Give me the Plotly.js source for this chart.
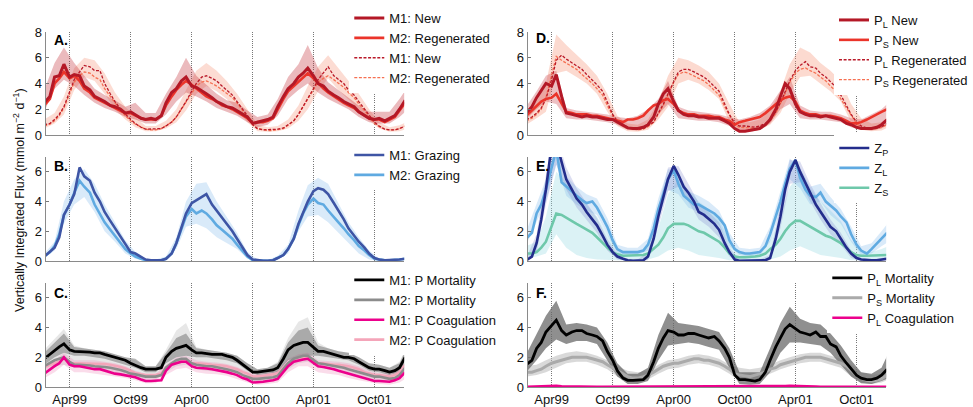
<!DOCTYPE html>
<html><head><meta charset="utf-8">
<script src="https://cdn.plot.ly/plotly-3.0.1.min.js"></script>
<style>html,body{margin:0;padding:0;background:#fff}#chart{width:973px;height:407px}</style>
</head><body><div id="chart"></div>
<script>
// ---- x values: semimonthly dates for lines, monthly dates for uncertainty bands ----
const dates = [];
for (let y = 1999; y <= 2001; y++) for (let m = 1; m <= 12; m++) {
  const mm = String(m).padStart(2, '0');
  dates.push(y + '-' + mm + '-01', y + '-' + mm + '-15');
}
dates.shift(); dates.push('2002-01-01');
const bandDates = [];
for (let y = 1999; y <= 2001; y++) for (let m = 1; m <= 12; m++) bandDates.push(y + '-' + String(m).padStart(2, '0') + '-15');
bandDates.push('2002-01-05');

const tickDates = ['1999-04-01','1999-10-01','2000-04-01','2000-10-01','2001-04-01','2001-10-01'];
const tickLabels = ['Apr99','Oct99','Apr00','Oct00','Apr01','Oct01'];

// ---- Panel A ----
const A_M1_new = [2.5,3.0,4.5,4.6,5.5,4.5,4.7,4.6,3.8,3.5,3.0,2.8, 2.6,2.3,2.2,2.0,1.7,1.8,1.6,1.3,1.2,1.3,1.2,1.5, 2.5,3.3,3.6,4.2,4.5,3.8,3.7,3.4,3.2,2.9,2.6,2.4, 2.2,2.1,1.9,1.6,1.4,0.9,1.0,1.1,1.2,1.4,2.2,3.0, 3.6,4.0,4.5,4.8,5.2,4.6,4.0,3.8,3.4,3.1,2.9,2.6, 2.4,2.2,1.8,1.5,1.3,1.2,1.3,1.1,1.3,1.5,2.0,2.7];
const A_M2_regen = [2.3,2.8,4.0,4.4,4.9,4.4,4.6,4.2,3.6,3.3,2.9,2.7, 2.5,2.3,2.1,1.9,1.7,1.7,1.5,1.3,1.2,1.2,1.2,1.5, 2.3,3.0,3.5,3.9,4.2,3.9,3.6,3.3,3.0,2.8,2.6,2.3, 2.2,2.0,1.8,1.5,1.3,0.9,1.0,1.0,1.1,1.3,2.0,2.8, 3.4,3.8,4.2,4.5,4.8,4.4,4.0,3.6,3.3,3.0,2.8,2.5, 2.3,2.1,1.8,1.5,1.3,1.2,1.2,1.0,1.2,1.4,1.9,2.5];
const A_M1_dash = [0.8,0.9,1.2,1.6,2.2,3.3,4.3,4.9,5.4,5.3,5.0,5.0, 4.0,3.2,2.6,2.0,1.6,1.2,0.9,0.6,0.45,0.45,0.45,0.5, 0.7,1.0,1.4,2.0,2.6,3.4,4.0,4.5,4.6,4.4,4.2,3.8, 3.5,3.1,2.6,2.0,1.5,0.8,0.5,0.4,0.4,0.4,0.45,0.55, 0.8,1.1,1.6,2.2,2.8,3.6,4.3,4.8,5.3,4.6,4.3,4.0, 3.5,3.1,2.6,2.0,1.5,1.0,0.7,0.45,0.4,0.4,0.5,0.7];
const A_M2_dash = [0.7,0.85,1.1,1.5,2.1,3.2,4.1,4.6,4.9,4.8,4.5,4.3, 3.6,3.0,2.5,1.9,1.5,1.1,0.85,0.6,0.45,0.4,0.4,0.5, 0.7,1.0,1.4,2.0,2.6,3.3,3.8,4.1,4.2,4.0,3.8,3.5, 3.2,2.9,2.5,1.9,1.4,0.8,0.5,0.4,0.35,0.35,0.4,0.5, 0.75,1.1,1.6,2.2,2.8,3.5,4.1,4.4,4.6,4.3,4.0,3.7, 3.3,2.9,2.4,1.9,1.4,0.9,0.65,0.45,0.4,0.4,0.5,0.7];
const A_band_new_hi = [3.5,5.6,6.8,5.6,4.6,3.6,3.1,2.7,2.2,2.5,1.7,1.7, 3.2,4.5,6.0,4.6,3.9,3.2,2.7,2.5,1.9,1.4,1.6,2.8, 4.5,5.5,7.0,5.2,4.1,3.5,2.9,2.3,1.8,1.8,1.8,2.8, 3.6];
const A_band_new_lo = [1.8,3.6,4.3,3.8,3.1,2.5,2.1,1.8,1.4,1.2,0.9,0.9, 1.6,2.6,3.3,3.0,2.6,2.1,1.8,1.5,1.0,0.6,0.8,1.5, 2.8,3.5,4.0,3.3,2.8,2.4,2.0,1.4,1.0,0.9,0.9,1.4, 1.9];
const A_band_dash_hi = [1.2,1.7,3.0,5.2,6.0,5.8,4.8,3.3,2.2,1.4,0.7,0.7, 1.1,2.0,3.5,5.0,5.6,5.0,4.2,3.2,2.0,0.8,0.6,0.7, 1.2,2.3,3.8,5.3,6.2,5.2,4.2,3.2,2.0,1.0,0.6,0.75, 1.0];
const A_band_dash_lo = [0.5,0.9,1.6,3.5,4.5,4.2,3.2,2.0,1.2,0.6,0.3,0.3, 0.5,1.0,1.9,3.2,3.8,3.4,2.8,2.0,1.0,0.3,0.25,0.3, 0.5,1.1,2.0,3.4,4.4,3.5,2.8,2.0,1.1,0.5,0.25,0.3, 0.45];

// ---- Panel B ----
const B_M1 = [0.3,0.6,0.9,1.6,3.1,3.8,4.5,6.3,5.7,5.4,4.6,4.0, 3.3,2.7,2.2,1.6,1.1,0.6,0.5,0.3,0.1,0.05,0.05,0.05, 0.15,0.5,1.2,2.2,3.2,3.9,4.1,4.3,4.5,3.8,3.4,2.9, 2.5,2.0,1.5,0.9,0.4,0.1,0.05,0.02,0.02,0.05,0.2,0.4, 0.8,1.5,2.5,3.3,4.0,4.7,4.9,4.8,4.5,3.9,3.4,2.8, 2.2,1.7,1.3,0.9,0.5,0.2,0.1,0.05,0.05,0.05,0.1,0.15];
const B_M2 = [0.3,0.6,1.0,1.8,3.1,3.8,4.6,5.4,5.0,4.6,3.8,3.2, 2.6,2.1,1.7,1.2,0.8,0.5,0.3,0.15,0.05,0.03,0.03,0.05, 0.15,0.5,1.2,2.1,3.0,3.5,3.2,3.4,3.2,2.8,2.4,2.1, 1.8,1.5,1.1,0.7,0.3,0.05,0.03,0.02,0.02,0.05,0.2,0.4, 0.8,1.5,2.4,3.2,3.8,4.2,3.9,3.8,3.4,3.0,2.6,2.2, 1.8,1.4,1.0,0.7,0.4,0.15,0.1,0.05,0.05,0.05,0.1,0.15];
const B_band_hi = [0.5,1.3,4.0,5.5,6.2,5.2,3.8,2.6,1.4,0.6,0.15,0.1, 0.3,1.6,4.0,5.2,5.3,4.0,3.0,1.9,0.6,0.1,0.05,0.35, 1.1,3.4,5.1,5.6,5.2,3.9,2.6,1.6,0.7,0.15,0.1,0.15, 0.25];
const B_band_lo = [0.2,0.7,2.5,3.8,4.3,3.3,2.0,1.3,0.5,0.15,0,0, 0.05,0.8,2.3,2.5,2.2,1.6,1.2,0.8,0.15,0,0,0.1, 0.5,2.0,3.0,3.1,2.6,1.9,1.2,0.5,0.1,0,0,0.02, 0.05];

// ---- Panel C ----
const C_M1_mort = [1.9,2.2,2.5,2.7,2.9,2.5,2.4,2.4,2.4,2.35,2.3,2.3, 2.2,2.1,2.0,1.9,1.8,1.6,1.45,1.3,1.2,1.2,1.2,1.3, 2.0,2.4,2.6,2.7,2.8,2.5,2.3,2.3,2.25,2.2,2.2,2.2, 2.1,2.0,1.8,1.5,1.3,1.0,1.0,1.05,1.1,1.15,1.3,1.9, 2.5,2.8,2.9,3.0,3.0,2.7,2.4,2.4,2.3,2.2,2.1,2.0, 2.0,1.9,1.7,1.5,1.3,1.2,1.2,1.1,1.0,1.1,1.3,2.0];
const C_M2_mort = [1.4,1.6,1.8,1.9,2.0,1.7,1.5,1.5,1.5,1.45,1.4,1.4, 1.35,1.3,1.25,1.15,1.05,0.9,0.85,0.75,0.7,0.7,0.7,0.8, 1.3,1.6,1.8,1.9,1.9,1.6,1.5,1.45,1.4,1.4,1.35,1.3, 1.2,1.1,1.0,0.8,0.7,0.55,0.55,0.6,0.6,0.65,0.75,1.2, 1.6,1.9,2.0,2.1,2.1,1.8,1.6,1.55,1.5,1.4,1.4,1.3, 1.2,1.1,1.0,0.9,0.8,0.7,0.7,0.6,0.55,0.6,0.8,1.3];
const C_M1_coag = [0.9,1.2,1.4,1.6,2.0,1.5,1.4,1.4,1.35,1.3,1.2,1.2, 1.1,1.0,0.9,0.85,0.8,0.75,0.65,0.5,0.4,0.4,0.4,0.45, 1.1,1.5,1.6,1.7,1.7,1.4,1.3,1.3,1.25,1.2,1.15,1.1, 1.0,0.9,0.8,0.6,0.5,0.3,0.3,0.35,0.4,0.45,0.55,1.0, 1.4,1.7,1.8,1.85,1.9,1.6,1.4,1.35,1.3,1.2,1.1,1.0, 0.9,0.8,0.7,0.6,0.5,0.4,0.4,0.35,0.35,0.45,0.6,1.0];
const C_M2_coag = [1.3,1.5,1.6,1.7,1.9,1.6,1.6,1.6,1.6,1.6,1.6,1.6, 1.55,1.5,1.45,1.35,1.25,1.1,0.95,0.85,0.8,0.8,0.8,0.9, 1.3,1.6,1.7,1.8,1.8,1.6,1.6,1.6,1.55,1.5,1.5,1.45, 1.4,1.3,1.2,1.0,0.9,0.7,0.7,0.75,0.8,0.85,0.95,1.3, 1.6,1.8,1.9,2.0,2.0,1.8,1.6,1.6,1.55,1.5,1.5,1.45, 1.4,1.3,1.2,1.0,0.9,0.8,0.8,0.75,0.7,0.8,1.0,1.5];
const C_band_m1_hi = [2.3,3.0,3.6,2.7,2.6,2.5,2.4,2.2,2.0,1.9,1.4,1.4, 2.3,3.3,3.6,2.6,2.5,2.4,2.3,2.1,1.6,1.2,1.3,1.6, 3.0,3.8,4.0,2.8,2.6,2.4,2.3,2.0,1.6,1.5,1.3,1.6, 2.6];
const C_band_m1_lo = [1.5,2.0,2.3,2.1,2.1,2.0,1.9,1.7,1.5,1.3,1.0,1.0, 1.6,2.0,2.1,2.0,2.0,1.9,1.8,1.6,1.1,0.8,0.9,1.0, 1.8,2.0,2.1,2.1,2.0,1.9,1.8,1.5,1.1,1.0,0.8,1.0, 1.5];
const C_band_m2_hi = [2.5,3.2,3.9,2.8,2.6,2.5,2.4,2.2,2.0,1.8,1.4,1.4, 2.5,3.8,4.3,2.7,2.5,2.4,2.3,2.1,1.6,1.2,1.3,1.7, 3.3,4.4,4.7,3.0,2.6,2.4,2.3,2.0,1.6,1.5,1.3,1.7, 2.7];
const C_band_m2_lo = [1.1,1.4,1.5,1.3,1.3,1.2,1.1,1.0,0.85,0.6,0.5,0.5, 1.0,1.4,1.5,1.2,1.1,1.05,0.95,0.8,0.5,0.35,0.4,0.55, 1.2,1.6,1.7,1.3,1.2,1.1,0.95,0.75,0.55,0.45,0.35,0.55, 1.0];
const C_band_coag_hi = [1.4,1.8,2.3,1.8,1.8,1.8,1.7,1.6,1.4,1.1,0.9,0.9, 1.5,2.0,2.1,1.8,1.7,1.65,1.55,1.35,1.05,0.85,0.95,1.1, 1.9,2.2,2.3,1.8,1.75,1.7,1.6,1.4,1.1,0.95,0.9,1.2, 1.7];
const C_band_coag_lo = [0.6,1.0,1.5,1.0,1.0,0.9,0.8,0.7,0.6,0.45,0.25,0.25, 0.8,1.2,1.3,1.0,0.9,0.85,0.75,0.55,0.3,0.15,0.2,0.3, 1.0,1.4,1.4,1.0,0.9,0.8,0.6,0.45,0.3,0.2,0.15,0.3, 0.6];

// ---- Panel D ----
const D_PL_new = [1.7,2.2,2.9,3.5,4.0,3.8,4.7,3.0,1.7,1.6,1.5,1.4, 1.5,1.4,1.4,1.3,1.2,1.2,1.0,0.7,0.55,0.5,0.5,0.6, 0.8,1.4,2.4,3.2,3.6,2.6,1.9,1.6,1.5,1.5,1.4,1.4, 1.3,1.3,1.3,1.1,0.9,0.5,0.3,0.3,0.35,0.4,0.5,0.8, 1.2,2.0,3.0,4.0,3.6,2.4,1.8,1.6,1.5,1.5,1.4,1.5, 1.4,1.3,1.2,0.9,0.8,0.6,0.5,0.5,0.5,0.6,0.8,1.2];
const D_PS_new = [1.5,1.9,2.3,2.6,2.8,2.9,3.2,2.4,1.8,1.7,1.6,1.6, 1.6,1.5,1.5,1.4,1.3,1.2,1.1,1.0,1.2,1.2,1.3,1.5, 1.9,2.3,2.4,2.7,2.8,2.4,1.9,1.7,1.6,1.6,1.5,1.5, 1.5,1.4,1.4,1.2,1.1,0.8,1.0,1.1,1.2,1.3,1.4,1.7, 2.0,2.4,2.7,2.9,3.0,2.6,1.9,1.7,1.6,1.6,1.5,1.5, 1.5,1.4,1.3,1.1,0.9,0.9,1.0,1.2,1.4,1.6,1.8,2.0];
const D_PL_regen = [1.2,1.4,1.7,2.1,2.8,4.3,5.8,6.2,5.9,5.6,5.4,5.1, 4.7,4.3,3.9,3.4,2.5,1.6,1.1,0.8,0.6,0.5,0.45,0.5, 0.7,1.0,1.7,2.4,3.2,4.2,4.9,5.1,5.1,4.9,4.7,4.5, 4.2,3.8,3.4,2.4,1.6,0.9,0.7,0.7,0.65,0.6,0.7,0.9, 1.2,1.8,2.5,3.3,4.2,5.0,5.4,5.7,5.3,5.2,4.8,4.5, 4.1,3.7,3.1,2.3,1.6,1.0,0.7,0.55,0.5,0.55,0.65,0.9];
const D_PS_regen = [1.1,1.3,1.6,2.0,2.9,4.6,6.1,5.8,5.6,5.3,5.1,4.7, 4.4,4.0,3.6,3.1,2.3,1.5,1.0,0.7,0.55,0.45,0.4,0.45, 0.65,1.0,1.6,2.3,3.1,4.1,4.7,4.9,4.8,4.6,4.4,4.2, 3.9,3.5,3.1,2.2,1.5,0.8,0.6,0.6,0.55,0.5,0.6,0.8, 1.1,1.7,2.4,3.2,4.1,4.8,5.1,5.2,5.0,4.8,4.5,4.2, 3.8,3.4,2.8,2.1,1.5,0.9,0.6,0.5,0.45,0.5,0.6,0.8];
const D_band_new_hi = [2.2,3.4,4.6,5.0,2.1,1.9,1.8,1.7,1.6,1.4,1.3,1.5, 2.0,2.8,4.2,2.2,1.9,1.8,1.7,1.6,1.4,1.2,1.4,1.7, 2.3,3.5,4.5,2.3,1.9,1.8,1.8,1.6,1.3,1.2,1.6,2.0, 2.5];
const D_band_new_lo = [1.2,2.0,2.6,2.4,1.3,1.2,1.2,1.1,1.0,0.8,0.4,0.35, 0.6,1.6,2.4,1.3,1.2,1.1,1.1,1.0,0.7,0.2,0.25,0.4, 0.9,2.0,2.4,1.3,1.2,1.2,1.1,1.0,0.6,0.4,0.35,0.5, 0.8];
const D_band_regen_hi = [1.8,2.6,4.0,7.8,7.0,6.2,5.5,4.6,3.2,1.5,0.9,0.8, 1.2,2.6,4.6,6.0,5.8,5.4,4.9,4.0,2.4,1.0,1.0,1.2, 1.9,3.4,5.5,6.8,6.4,5.6,5.0,4.2,2.4,1.3,0.9,1.0, 1.4];
const D_band_regen_lo = [0.8,1.3,1.8,4.8,5.0,4.5,4.0,3.2,1.8,0.7,0.3,0.25, 0.4,1.2,2.2,4.0,4.3,4.0,3.5,2.8,1.0,0.4,0.3,0.4, 0.8,1.7,3.2,4.5,4.6,4.0,3.4,2.6,1.0,0.4,0.3,0.35, 0.6];

// ---- Panel E ----
const E_Zp = [0.05,0.3,1.2,2.8,4.8,7.8,8.0,6.6,5.5,4.8,4.2,3.8, 3.3,2.8,2.4,1.7,1.1,0.6,0.3,0.15,0.05,0.02,0.02,0.05, 0.3,1.5,3.0,4.4,5.5,6.4,5.8,5.0,4.6,4.0,3.3,3.1, 2.8,2.5,2.1,1.2,0.6,0.1,0.02,0.02,0.02,0.02,0.02,0.05, 0.2,1.5,3.0,4.8,6.0,6.8,6.0,5.2,4.6,3.8,3.3,2.8, 2.3,2.0,1.5,0.9,0.5,0.2,0.1,0.05,0.05,0.05,0.1,0.15];
const E_Zl = [1.5,1.9,3.2,3.8,4.8,6.2,7.5,5.3,5.0,4.7,4.4,4.1, 3.9,4.0,3.6,2.9,2.3,1.4,0.8,0.6,0.6,0.6,0.6,0.7, 1.1,2.2,3.5,4.5,5.5,6.1,5.2,4.4,4.1,3.8,3.8,3.6, 3.4,3.2,2.9,2.4,1.4,0.8,0.6,0.5,0.5,0.55,0.6,1.0, 1.8,3.0,4.0,5.2,6.2,6.8,5.6,4.8,4.4,4.3,4.6,4.0, 3.7,3.4,3.0,2.6,1.8,1.1,0.7,0.5,0.8,1.2,1.5,1.9];
const E_Zs = [0.5,0.5,0.6,0.9,1.3,2.4,3.2,3.1,2.9,2.7,2.5,2.3, 2.1,1.9,1.6,1.2,0.9,0.6,0.45,0.35,0.35,0.35,0.35,0.4, 0.5,0.8,1.1,1.6,2.2,2.5,2.5,2.5,2.4,2.2,2.0,1.9, 1.7,1.5,1.3,0.9,0.5,0.3,0.25,0.25,0.25,0.3,0.35,0.5, 0.8,1.1,1.5,2.0,2.4,2.7,2.7,2.5,2.3,2.1,1.9,1.7, 1.6,1.4,1.2,0.9,0.6,0.4,0.35,0.35,0.35,0.35,0.4,0.4];
const E_band_zp_hi = [0.2,1.8,5.8,8.5,6.3,4.9,3.9,2.9,1.5,0.5,0.1,0.1, 0.6,3.7,6.3,6.4,5.2,3.9,3.3,2.6,0.9,0.1,0.1,0.1, 0.4,3.8,6.8,6.7,5.2,3.9,2.8,1.9,0.7,0.2,0.1,0.2, 0.3];
const E_band_zp_lo = [0,0.6,3.8,6.5,4.8,3.6,2.8,1.9,0.7,0.1,0,0, 0.05,2.3,4.7,5.0,4.0,2.8,2.3,1.6,0.3,0,0,0, 0.05,2.2,5.2,5.3,4.0,2.8,1.8,1.1,0.2,0,0,0, 0];
const E_band_zl_hi = [2.0,3.9,5.5,8.0,5.7,5.0,4.5,4.2,2.9,1.1,0.9,0.9, 1.5,4.2,6.2,5.9,4.7,4.4,4.0,3.4,1.9,0.9,0.8,0.9, 2.3,4.7,6.9,6.3,5.0,5.2,4.3,3.5,2.3,1.0,1.2,2.0, 2.6];
const E_band_zl_lo = [1.1,2.6,4.0,6.5,4.4,3.8,3.4,3.1,1.8,0.5,0.4,0.4, 0.7,2.8,4.8,4.5,3.6,3.3,2.9,2.4,1.0,0.4,0.3,0.35, 1.3,3.3,5.5,4.9,3.8,4.0,3.1,2.5,1.3,0.4,0.5,1.0, 1.3];
const E_band_zs_hi = [1.0,1.3,3.0,6.0,5.3,4.5,3.8,3.0,1.8,0.8,0.6,0.6, 0.9,2.2,4.5,5.5,4.8,4.0,3.5,2.8,1.4,0.6,0.5,0.6, 1.4,3.0,5.0,5.8,4.9,4.0,3.4,2.7,1.4,0.7,0.6,0.8, 1.0];
const E_band_zs_lo = [0.2,0.3,0.5,1.8,0.9,0.4,0.2,0.1,0.05,0.05,0.05,0.05, 0.1,0.3,0.7,0.9,0.7,0.4,0.3,0.2,0.05,0.05,0.05,0.05, 0.1,0.3,0.7,1.0,0.7,0.4,0.3,0.2,0.05,0.05,0.05,0.05, 0.1];

// ---- Panel F ----
const F_PL_mort = [1.5,1.8,2.6,3.0,3.7,4.1,4.5,3.8,3.5,3.7,3.8,3.8, 3.6,3.5,3.4,3.1,2.4,1.8,1.1,0.6,0.45,0.45,0.45,0.5, 0.8,1.7,2.6,3.3,3.8,3.7,3.5,3.5,3.6,3.6,3.5,3.4, 3.3,3.4,3.1,2.6,2.0,0.8,0.5,0.5,0.45,0.4,0.5,1.0, 1.8,2.7,3.3,3.9,4.2,3.9,3.7,3.6,3.5,3.7,3.4,3.4, 2.9,2.7,2.1,1.6,1.2,0.8,0.6,0.5,0.5,0.6,0.8,1.2];
const F_PS_mort = [1.0,1.0,1.1,1.2,1.4,1.6,1.7,1.8,1.9,2.0,2.0,2.0, 2.0,1.9,1.8,1.7,1.5,1.3,1.1,0.9,0.7,0.6,0.6,0.7, 0.8,1.0,1.2,1.4,1.5,1.6,1.6,1.7,1.8,1.9,1.9,1.8, 1.8,1.7,1.6,1.4,1.2,0.9,0.8,0.75,0.7,0.8,0.9,1.0, 1.2,1.3,1.5,1.6,1.7,1.8,1.9,2.0,2.0,2.0,2.0,1.9, 1.8,1.7,1.6,1.4,1.1,0.8,0.6,0.45,0.4,0.45,0.55,0.8];
const F_PL_coag = [0.02,0.03,0.04,0.06,0.08,0.09,0.08,0.05,0.04,0.03,0.03,0.02, 0.02,0.02,0.02,0.02,0.02,0.02,0.02,0.02,0.02,0.02,0.02,0.02, 0.02,0.03,0.04,0.05,0.06,0.06,0.04,0.03,0.03,0.02,0.02,0.02, 0.02,0.02,0.02,0.02,0.02,0.02,0.02,0.02,0.02,0.02,0.02,0.03, 0.04,0.05,0.06,0.07,0.08,0.08,0.06,0.04,0.03,0.03,0.02,0.02, 0.02,0.02,0.02,0.02,0.02,0.02,0.02,0.02,0.02,0.02,0.02,0.02];
const F_band_pl_hi = [2.2,3.6,4.8,5.8,4.2,4.3,4.2,4.0,3.0,1.6,0.9,0.9, 1.3,3.5,5.0,4.3,4.2,4.1,3.9,3.7,2.6,1.0,1.0,1.0, 2.6,4.3,5.4,4.6,4.3,4.2,3.6,2.8,1.8,1.0,0.9,1.3, 2.3];
const F_band_pl_lo = [1.0,1.8,2.6,3.2,2.9,3.1,3.1,2.9,1.8,0.7,0.2,0.2, 0.4,1.8,2.8,2.9,3.0,2.9,2.7,2.5,1.3,0.2,0.15,0.2, 1.0,2.3,3.0,3.0,2.9,2.8,2.3,1.5,0.7,0.25,0.2,0.4, 0.6];
const F_band_ps_hi = [1.4,1.5,1.8,2.1,2.3,2.4,2.3,2.1,1.8,1.4,1.1,1.0, 1.1,1.5,1.8,1.9,2.1,2.2,2.1,1.9,1.5,1.3,1.2,1.3, 1.5,1.8,2.0,2.2,2.3,2.3,2.1,1.9,1.5,1.0,0.8,0.9, 1.3];
const F_band_ps_lo = [0.7,0.8,1.0,1.3,1.6,1.7,1.7,1.5,1.2,0.7,0.4,0.3, 0.5,0.9,1.2,1.3,1.5,1.6,1.5,1.3,0.9,0.4,0.4,0.6, 0.9,1.2,1.4,1.6,1.7,1.7,1.5,1.3,0.7,0.3,0.2,0.3, 0.5];

// ---- helpers ----
const FONT = 'Liberation Sans, Arial, Helvetica, sans-serif';
function band(n, hi, lo, color) {
  return {x: bandDates.concat(bandDates.slice().reverse()), y: hi.concat(lo.slice().reverse()),
    xaxis: 'x' + (n === 1 ? '' : n), yaxis: 'y' + (n === 1 ? '' : n), type: 'scatter', mode: 'lines',
    fill: 'toself', fillcolor: color, line: {width: 0}, showlegend: false, hoverinfo: 'skip'};
}
function line(n, y, name, color, width, dash, rank) {
  return {x: dates, y: y, name: name, xaxis: 'x' + (n === 1 ? '' : n), yaxis: 'y' + (n === 1 ? '' : n),
    type: 'scatter', mode: 'lines', line: {color: color, width: width, dash: dash || 'solid'},
    legend: n === 1 ? 'legend' : 'legend' + n, legendrank: rank, hoverinfo: 'skip'};
}
const DASH = '3px,1.6px';
const traces = [
  // A
  band(1, A_band_dash_hi, A_band_dash_lo, 'rgba(245,140,110,0.30)'),
  band(1, A_band_new_hi, A_band_new_lo, 'rgba(195,45,55,0.33)'),
  line(1, A_M2_dash, 'M2: Regenerated', 'rgb(246,112,82)', 1.3, DASH, 4),
  line(1, A_M1_dash, 'M1: New', 'rgb(185,25,40)', 1.3, DASH, 3),
  line(1, A_M2_regen, 'M2: Regenerated', 'rgb(235,52,42)', 2.6, 'solid', 2),
  line(1, A_M1_new, 'M1: New', 'rgb(180,24,38)', 3.0, 'solid', 1),
  // B
  band(2, B_band_hi, B_band_lo, 'rgba(130,185,235,0.30)'),
  line(2, B_M2, 'M2: Grazing', 'rgb(95,170,225)', 2.6, 'solid', 2),
  line(2, B_M1, 'M1: Grazing', 'rgb(62,85,165)', 2.6, 'solid', 1),
  // C
  band(3, C_band_m2_hi, C_band_m2_lo, 'rgba(175,175,175,0.30)'),
  band(3, C_band_coag_hi, C_band_coag_lo, 'rgba(240,140,185,0.30)'),
  band(3, C_band_m1_hi, C_band_m1_lo, 'rgba(95,95,95,0.45)'),
  line(3, C_M2_coag, 'M2: P Coagulation', 'rgb(244,165,185)', 2.6, 'solid', 4),
  line(3, C_M2_mort, 'M2: P Mortality', 'rgb(140,140,140)', 2.6, 'solid', 2),
  line(3, C_M1_coag, 'M1: P Coagulation', 'rgb(236,0,140)', 2.6, 'solid', 3),
  line(3, C_M1_mort, 'M1: P Mortality', 'rgb(0,0,0)', 2.8, 'solid', 1),
  // D
  band(4, D_band_regen_hi, D_band_regen_lo, 'rgba(245,140,110,0.32)'),
  band(4, D_band_new_hi, D_band_new_lo, 'rgba(195,45,55,0.30)'),
  line(4, D_PS_regen, 'P<sub>S</sub> Regenerated', 'rgb(246,112,82)', 1.3, DASH, 4),
  line(4, D_PL_regen, 'P<sub>L</sub> Regenerated', 'rgb(185,25,40)', 1.3, DASH, 3),
  line(4, D_PS_new, 'P<sub>S</sub> New', 'rgb(235,52,42)', 2.6, 'solid', 2),
  line(4, D_PL_new, 'P<sub>L</sub> New', 'rgb(180,24,38)', 3.0, 'solid', 1),
  // E
  band(5, E_band_zs_hi, E_band_zs_lo, 'rgba(160,220,228,0.38)'),
  band(5, E_band_zl_hi, E_band_zl_lo, 'rgba(130,185,235,0.30)'),
  band(5, E_band_zp_hi, E_band_zp_lo, 'rgba(130,135,205,0.28)'),
  line(5, E_Zs, 'Z<sub>S</sub>', 'rgb(110,200,170)', 2.6, 'solid', 3),
  line(5, E_Zl, 'Z<sub>L</sub>', 'rgb(95,170,225)', 2.6, 'solid', 2),
  line(5, E_Zp, 'Z<sub>P</sub>', 'rgb(35,45,140)', 2.6, 'solid', 1),
  // F
  band(6, F_band_ps_hi, F_band_ps_lo, 'rgba(185,185,185,0.55)'),
  band(6, F_band_pl_hi, F_band_pl_lo, 'rgba(105,105,105,0.75)'),
  line(6, F_PS_mort, 'P<sub>S</sub> Mortality', 'rgb(170,170,170)', 3.0, 'solid', 2),
  line(6, F_PL_coag, 'P<sub>L</sub> Coagulation', 'rgb(236,0,140)', 2.6, 'solid', 3),
  line(6, F_PL_mort, 'P<sub>L</sub> Mortality', 'rgb(0,0,0)', 2.8, 'solid', 1)
];

const W = 973, H = 407;
const xL = [46 / W, 405 / W], xR = [529 / W, 888 / W];
const yTop = [1 - 135 / H, 1 - 32 / H], yMid = [1 - 261 / H, 1 - 157 / H], yBot = [1 - 387 / H, 1 - 283 / H];
function xax(dom, labels) {
  return {domain: dom, type: 'date', range: ['1999-01-20', '2001-12-29'], tickmode: 'array',
    tickvals: tickDates, ticktext: tickLabels, showticklabels: labels, ticks: '',
    showgrid: true, gridcolor: '#777', griddash: '1px,1.2px', gridwidth: 1, zeroline: false,
    showline: true, linecolor: '#8a8a8a', linewidth: 1.3, tickfont: {family: FONT, size: 13, color: '#111'}, fixedrange: true};
}
function yax(dom, top, anchor) {
  const tv = top === 8 ? [0, 2, 4, 6, 8] : [0, 2, 4, 6];
  return {domain: dom, range: [0, top], tickmode: 'array', tickvals: tv, anchor: anchor,
    ticks: 'inside', ticklen: 3, tickcolor: '#777', showgrid: false, zeroline: false,
    showline: true, linecolor: '#8a8a8a', linewidth: 1.3, tickfont: {family: FONT, size: 13, color: '#111'}, fixedrange: true};
}
function leg(px, pyTop) {
  return {x: px / W, y: 1 - pyTop / H, xanchor: 'left', yanchor: 'top', bgcolor: 'rgba(255,255,255,1)',
    borderwidth: 0, font: {family: FONT, size: 13, color: '#111'}, traceorder: 'normal'};
}
function lab(t, px, py) {
  return {text: '<b>' + t + '</b>', x: px / W, y: 1 - py / H, xref: 'paper', yref: 'paper',
    xanchor: 'left', yanchor: 'middle', showarrow: false, font: {family: FONT, size: 14, color: '#000'}};
}
const layout = {
  width: W, height: H, margin: {l: 0, r: 0, t: 0, b: 0}, paper_bgcolor: '#fff', plot_bgcolor: 'rgba(0,0,0,0)',
  showlegend: true, hovermode: false,
  xaxis: Object.assign(xax(xL, false), {anchor: 'y'}),
  xaxis2: Object.assign(xax(xL, false), {anchor: 'y2'}),
  xaxis3: Object.assign(xax(xL, true), {anchor: 'y3'}),
  xaxis4: Object.assign(xax(xR, false), {anchor: 'y4'}),
  xaxis5: Object.assign(xax(xR, false), {anchor: 'y5'}),
  xaxis6: Object.assign(xax(xR, true), {anchor: 'y6'}),
  yaxis: yax(yTop, 8, 'x'), yaxis2: yax(yMid, 7, 'x2'), yaxis3: yax(yBot, 7, 'x3'),
  yaxis4: yax(yTop, 8, 'x4'), yaxis5: yax(yMid, 7, 'x5'), yaxis6: yax(yBot, 7, 'x6'),
  legend: leg(350, 3), legend2: leg(350, 140), legend3: leg(350, 265),
  legend4: leg(836, 5), legend5: leg(836, 133), legend6: leg(829, 263),
  annotations: [
    lab('A.', 52, 40), lab('B.', 52, 166), lab('C.', 52, 293),
    lab('D.', 535, 38), lab('E.', 535, 166), lab('F.', 535, 293),
    {text: 'Vertically Integrated Flux (mmol m<sup>−2</sup> d<sup>−1</sup>)', x: 19 / W, y: 1 - 200 / H,
     xref: 'paper', yref: 'paper', xanchor: 'center', yanchor: 'middle', textangle: -90, showarrow: false,
     font: {family: FONT, size: 12.5, color: '#111'}}
  ]
};
Plotly.newPlot('chart', traces, layout, {staticPlot: true, displayModeBar: false});
</script></body></html>
